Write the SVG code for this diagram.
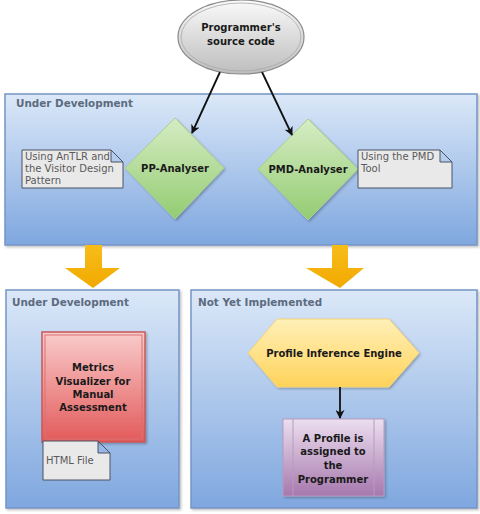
<svg xmlns="http://www.w3.org/2000/svg" width="480" height="514" viewBox="0 0 480 514">
<defs>
<linearGradient id="gBlue" x1="0" y1="0" x2="0" y2="1"><stop offset="0" stop-color="#dbe8f8"/><stop offset="1" stop-color="#7fa7df"/></linearGradient>
<linearGradient id="gGreen" x1="0" y1="0" x2="0" y2="1"><stop offset="0" stop-color="#d6ecc4"/><stop offset="1" stop-color="#93cc72"/></linearGradient>
<linearGradient id="gGray" x1="0" y1="0" x2="0" y2="1"><stop offset="0" stop-color="#fafafa"/><stop offset="1" stop-color="#bdbdbd"/></linearGradient>
<linearGradient id="gRed" x1="0" y1="0" x2="0" y2="1"><stop offset="0" stop-color="#f9cccc"/><stop offset="1" stop-color="#e35a5a"/></linearGradient>
<linearGradient id="gYellow" x1="0" y1="0" x2="0" y2="1"><stop offset="0" stop-color="#fff0b8"/><stop offset="1" stop-color="#ffd35a"/></linearGradient>
<linearGradient id="gPurple" x1="0" y1="0" x2="0" y2="1"><stop offset="0" stop-color="#ecdff0"/><stop offset="1" stop-color="#a678ad"/></linearGradient>
<linearGradient id="gOrange" x1="0" y1="0" x2="0" y2="1"><stop offset="0" stop-color="#f7bd1a"/><stop offset="1" stop-color="#f2a900"/></linearGradient>
<marker id="ah" viewBox="0 0 10 10" refX="9" refY="5" markerWidth="9" markerHeight="9" orient="auto" markerUnits="userSpaceOnUse"><path d="M0,0 L10,5 L0,10 L3,5 Z" fill="#111"/></marker>
<filter id="sh" x="-5%" y="-5%" width="110%" height="110%"><feDropShadow dx="1.5" dy="1.5" stdDeviation="1.2" flood-color="#000" flood-opacity="0.25"/></filter>
</defs>
<style>
.cont{fill:url(#gBlue);stroke:#7595c4;stroke-width:1.5;filter:url(#sh)}
.ctitle{font-family:"DejaVu Sans",sans-serif;font-weight:bold;font-size:10.4px;fill:#5c6b80}
.lbl{font-family:"DejaVu Sans",sans-serif;font-weight:bold;font-size:10px;fill:#1a1a1a;text-anchor:middle}
.note{fill:#e9e9e9;stroke:#4a5262;stroke-width:1}
.ntxt{font-family:"DejaVu Sans",sans-serif;font-size:10px;fill:#5a5a5a}
.conn{stroke:#111;stroke-width:1.8;fill:none;marker-end:url(#ah)}
.big{fill:url(#gOrange);stroke:none}
</style>

<g id="container-top">
<rect class="cont" x="5" y="94" width="472" height="151"/>
<text class="ctitle" x="16" y="107">Under Development</text>
</g>
<g id="container-bottom-left">
<rect class="cont" x="6" y="290" width="173" height="218"/>
<text class="ctitle" x="12" y="306">Under Development</text>
</g>
<g id="container-bottom-right">
<rect class="cont" x="191" y="290" width="286" height="218"/>
<text class="ctitle" x="198" y="306">Not Yet Implemented</text>
</g>

<g id="source">
<ellipse cx="241" cy="37" rx="63" ry="37" fill="url(#gGray)" stroke="#8a8a8a" stroke-width="1.2"/>
<ellipse cx="241" cy="37" rx="60" ry="34" fill="none" stroke="#a8a8a8" stroke-width="0.8"/>
<text class="lbl" x="241" y="31">Programmer's</text>
<text class="lbl" x="241" y="45">source code</text>
</g>

<g id="pp-analyser">
<polygon points="175,118 224,168 175,219 125,168" fill="url(#gGreen)" stroke="#a9d08f" stroke-width="1" filter="url(#sh)"/>
<text class="lbl" x="175" y="172">PP-Analyser</text>
</g>
<g id="pp-note">
<path class="note" d="M22,150 H111 L123,162 V188 H22 Z M111,150 V162 H123" />
<text class="ntxt" x="25" y="160">Using AnTLR and</text>
<text class="ntxt" x="25" y="172">the Visitor Design</text>
<text class="ntxt" x="25" y="184">Pattern</text>
</g>

<g id="pmd-analyser">
<polygon points="308,119 358,169 308,220 258,169" fill="url(#gGreen)" stroke="#a9d08f" stroke-width="1" filter="url(#sh)"/>
<text class="lbl" x="308" y="173">PMD-Analyser</text>
</g>
<g id="pmd-note">
<path class="note" d="M358,150 H440 L452,162 V188 H358 Z M440,150 V162 H452" />
<text class="ntxt" x="361" y="160">Using the PMD</text>
<text class="ntxt" x="361" y="172">Tool</text>
</g>

<g id="metrics-visualizer">
<rect x="42" y="332" width="103" height="110" fill="url(#gRed)" stroke="#c85858" stroke-width="1.5" filter="url(#sh)"/>
<rect x="45" y="335" width="97" height="104" fill="none" stroke="#d97070" stroke-width="1"/>
<text class="lbl" x="93" y="371">Metrics</text>
<text class="lbl" x="93" y="385">Visualizer for</text>
<text class="lbl" x="93" y="398">Manual</text>
<text class="lbl" x="93" y="411">Assessment</text>
</g>
<g id="html-note">
<path class="note" d="M43,441 H98 L110,453 V480 H43 Z M98,441 V453 H110"/>
<text class="ntxt" x="46" y="464">HTML File</text>
</g>

<g id="profile-engine">
<polygon points="277,319 389,319 419,353 389,387 277,387 248,353" fill="url(#gYellow)" stroke="#f3d27a" stroke-width="1" filter="url(#sh)"/>
<text class="lbl" x="334" y="357">Profile Inference Engine</text>
</g>

<g id="profile-assigned">
<rect x="283" y="419" width="101" height="77" fill="url(#gPurple)" stroke="#b89bbd" stroke-width="1" filter="url(#sh)"/>
<line x1="293" y1="419" x2="293" y2="496" stroke="#b89bbd" stroke-width="1"/>
<line x1="374" y1="419" x2="374" y2="496" stroke="#b89bbd" stroke-width="1"/>
<text class="lbl" x="333" y="442">A Profile is</text>
<text class="lbl" x="333" y="455">assigned to</text>
<text class="lbl" x="333" y="469">the</text>
<text class="lbl" x="333" y="483">Programmer</text>
</g>

<g id="connectors">
<line class="conn" x1="220" y1="72" x2="192" y2="133"/>
<line class="conn" x1="262" y1="72" x2="292" y2="135"/>
<line class="conn" x1="340" y1="387" x2="340" y2="418"/>
<polygon class="big" points="85,245 102,245 102,268 120,268 93,288 65,268 85,268"/>
<polygon class="big" points="332,245 348,245 348,268 364,268 340,288 306,268 332,268"/>
</g>
</svg>
